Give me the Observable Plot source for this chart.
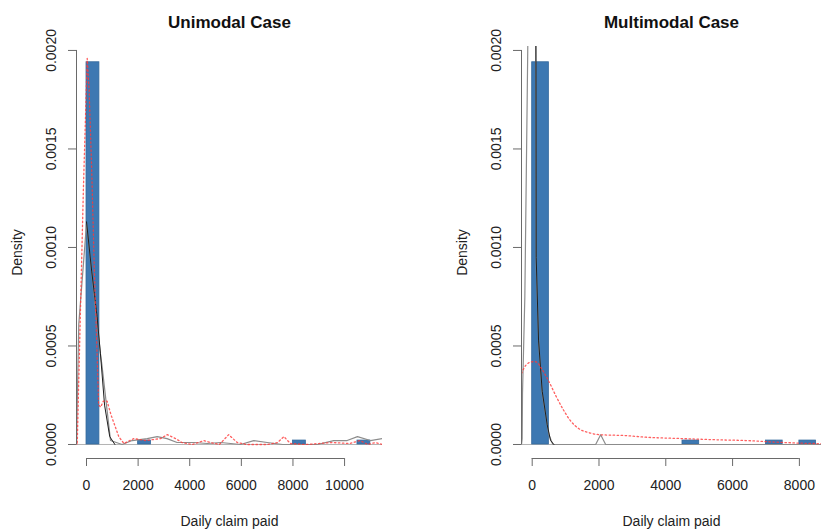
<!DOCTYPE html>
<html>
<head>
<meta charset="utf-8">
<script src="https://cdn.jsdelivr.net/npm/d3@7"></script>
<script src="https://cdn.jsdelivr.net/npm/@observablehq/plot@0.6"></script>
<style>
  html, body { margin: 0; padding: 0; background: #fff; overflow: hidden; }
  #wrap { position: relative; width: 821px; height: 530px; }
  .panel { position: absolute; top: 0; }
</style>
</head>
<body>
<div id="wrap">
  <div class="panel" id="left" style="left:0px"></div>
  <div class="panel" id="right" style="left:410px"></div>
</div>
<script>
// ---------- shared ticks ----------
const yTicks = [0, 0.0005, 0.001, 0.0015, 0.002];
const yTickLabels = ["0.0000", "0.0005", "0.0010", "0.0015", "0.0020"];
const xLabel = "Daily claim paid";
const yLabel = "Density";

// ---------- Unimodal case ----------
const uniTitle = "Unimodal Case";
const uniXTicks = [0, 2000, 4000, 6000, 8000, 10000];
const uniBinStart = [0, 2000, 8000, 10500];
const uniBinEnd = [500, 2500, 8500, 11000];
const uniBinDensity = [0.00194, 0.00002, 0.00002, 0.00002];

const uniGrayX = [-390, -300, 0, 540, 600, 930, 1380, 1770, 2350, 2740, 3120, 3510, 4160, 4680, 5200, 5970, 6480, 7000, 7600, 8940, 9580, 10100, 10500, 11000, 11470];
const uniGrayY = [0, 0.00061, 0.00112, 0.00046, 0.0004, 0.00002, 0, 0.00002, 0.00003, 0.00004, 0.00003, 0.00001, 0.00001, 0.000005, 0.00001, 0, 0.00002, 0.00001, 0, 0, 0.00002, 0.00002, 0.00004, 0.00002, 0.00003];

const uniBlackX = [0, 200, 410, 540, 700, 900, 1100];
const uniBlackY = [0.00113, 0.00088, 0.00065, 0.00046, 0.0002, 0.00004, 0];

const uniRedX = [-390, -360, -250, -120, 27, 100, 200, 300, 400, 470, 550, 650, 800, 950, 1060, 1250, 1450, 1830, 2300, 2870, 3130, 3450, 3700, 4100, 4550, 4800, 5150, 5510, 5840, 6200, 7000, 7400, 7650, 7900, 8500, 9500, 10200, 10600, 10900, 11200, 11470];
const uniRedY = [0.00001, 0, 0.0006, 0.0013, 0.00196, 0.0018, 0.0014, 0.0009, 0.0005, 0.0002, 0.00019, 0.00022, 0.00022, 0.00015, 0.00011, 0.00004, 0.000005, 0.00003, 0.00002, 0.00003, 0.00005, 0.00003, 0.00001, 0, 0.00002, 0.00001, 0, 0.00005, 0.00001, 0, 0, 0.00001, 0.00004, 0.000005, 0, 0.00001, 0.000005, 0.00002, 0, 0.00001, 0];

// ---------- Multimodal case ----------
const multiTitle = "Multimodal Case";
const multiXTicks = [0, 2000, 4000, 6000, 8000];
const multiBinStart = [0, 4500, 7000, 8000];
const multiBinEnd = [500, 5000, 7500, 8500];
const multiBinDensity = [0.00194, 0.00002, 0.00002, 0.00002];

const multiGrayX = [-320, -300, -290, -220, -150, -100, 100, 120, 200, 300, 450, 500, 620, 1900, 2050, 2200, 8700];
const multiGrayY = [0, 0.00003, 0.00026, 0.00075, 0.00175, 0.0025, 0.0025, 0.0009, 0.0005, 0.00026, 0.0001, 0.00005, 0, 0, 0.000049, 0, 0];

const multiBlackX = [110, 120, 190, 300, 450, 550, 650];
const multiBlackY = [0.0025, 0.00095, 0.00053, 0.00027, 0.0001, 0.00002, 0];

const multiRedX = [-320, -200, 0, 100, 300, 500, 700, 920, 1150, 1400, 1700, 2000, 2800, 3400, 4500, 5500, 6400, 7300, 8000, 8700];
const multiRedY = [0.00036, 0.0004, 0.00042, 0.00042, 0.00038, 0.00032, 0.00025, 0.00018, 0.00012, 0.00008, 0.00006, 0.00005, 0.000045, 0.000037, 0.00003, 0.000024, 0.00002, 0.000012, 0.000007, 0.000004];

function pts(xs, ys) { return xs.map((x, i) => ({x, y: ys[i]})); }
function bins(s, e, d) { return s.map((v, i) => ({x1: v, x2: e[i], d: d[i]})); }

function panel(cfg) {
  const yDomain = [-0.0000711, 0.00202];
  const tickColor = "#6a6a6a";
  return Plot.plot({
    width: cfg.width,
    height: 530,
    marginLeft: cfg.marginLeft,
    marginRight: cfg.marginRight,
    marginTop: 46,
    marginBottom: 72,
    style: {fontFamily: "'Liberation Sans', Arial, sans-serif", fontSize: "14px", color: "#222", background: "white", overflow: "visible"},
    x: {domain: cfg.xDomain, axis: null},
    y: {domain: yDomain, axis: null},
    marks: [
      Plot.ruleY([0], {stroke: "#b4b4b4", strokeWidth: 1}),
      Plot.rect(cfg.bins, {x1: "x1", x2: "x2", y1: 0, y2: "d", fill: "#3d78b2", stroke: "#35699c", strokeWidth: 0.8}),
      Plot.line(cfg.gray, {x: "x", y: "y", stroke: "#8c8c8c", strokeWidth: 1.2, clip: true}),
      Plot.line(cfg.black, {x: "x", y: "y", stroke: "#1e1e1e", strokeWidth: 1, clip: true}),
      Plot.line(cfg.red, {x: "x", y: "y", stroke: "#ff3838", strokeWidth: 1.3, strokeDasharray: "1.5,2.5", strokeOpacity: 0.8, curve: cfg.redCurve, clip: true}),
      // axes
      Plot.ruleY([yDomain[0]], {x1: cfg.xTicks[0], x2: cfg.xTicks[cfg.xTicks.length - 1], stroke: tickColor}),
      Plot.axisX(cfg.xTicks, {tickSize: 8, tickPadding: 14, fontSize: 14, stroke: tickColor, fill: "#222", label: null, tickFormat: d => String(d)}),
      Plot.ruleX([cfg.xDomain[0]], {y1: 0, y2: 0.002, stroke: tickColor}),
      Plot.axisY(yTicks, {tickSize: 8, tickFormat: () => "", stroke: tickColor, label: null}),
      Plot.text(yTicks, {y: d => d, text: (d, i) => yTickLabels[i], frameAnchor: "left", dx: -25, rotate: -90, textAnchor: "middle", lineAnchor: "middle", fontSize: 14, fill: "#222"}),
      // labels
      Plot.text([cfg.title], {text: d => d, frameAnchor: "top", dy: -24, textAnchor: "middle", lineAnchor: "middle", fontSize: 17, fontWeight: "bold", fill: "#111"}),
      Plot.text([xLabel], {text: d => d, frameAnchor: "bottom", dy: 63, textAnchor: "middle", lineAnchor: "middle", fontSize: 14, fill: "#222"}),
      Plot.text([yLabel], {text: d => d, frameAnchor: "left", dx: -58.5, rotate: -90, textAnchor: "middle", lineAnchor: "middle", fontSize: 14, fill: "#222"})
    ]
  });
}

document.getElementById("left").appendChild(panel({
  width: 410, marginLeft: 76, marginRight: 28,
  xDomain: [-388, 11470], xTicks: uniXTicks, title: uniTitle,
  bins: bins(uniBinStart, uniBinEnd, uniBinDensity),
  gray: pts(uniGrayX, uniGrayY), black: pts(uniBlackX, uniBlackY), red: pts(uniRedX, uniRedY),
  redCurve: "linear"
}));

document.getElementById("right").appendChild(panel({
  width: 411, marginLeft: 111, marginRight: 0,
  xDomain: [-320, 8662], xTicks: multiXTicks, title: multiTitle,
  bins: bins(multiBinStart, multiBinEnd, multiBinDensity),
  gray: pts(multiGrayX, multiGrayY), black: pts(multiBlackX, multiBlackY), red: pts(multiRedX, multiRedY),
  redCurve: "monotone-x"
}));
</script>
</body>
</html>
